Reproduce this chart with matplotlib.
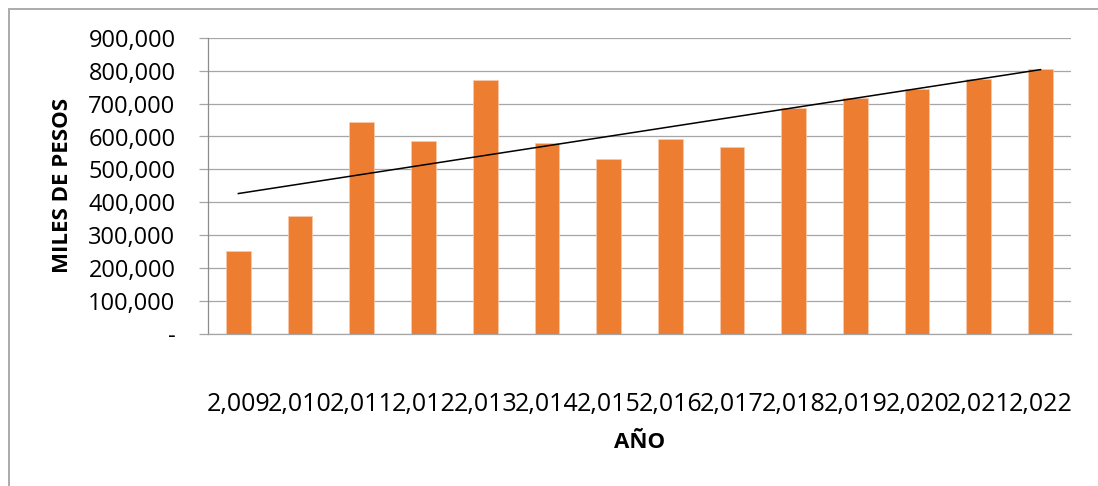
import numpy as np
import matplotlib
matplotlib.use("Agg")
import matplotlib.pyplot as plt
from matplotlib.patches import Rectangle
from matplotlib.ticker import FuncFormatter

# ---- data ----
years = ["2,009", "2,010", "2,011", "2,012", "2,013", "2,014", "2,015",
         "2,016", "2,017", "2,018", "2,019", "2,020", "2,021", "2,022"]
values = [250000, 357000, 645000, 587000, 771000, 581000, 532000,
          591000, 568000, 688000, 716000, 745000, 774000, 805000]
y_ticks = [0, 100000, 200000, 300000, 400000, 500000, 600000, 700000, 800000, 900000]

W, H = 1098, 486
fig = plt.figure(figsize=(W / 100, H / 100), dpi=100)
plt.rcParams['font.family'] = ['Open Sans', 'DejaVu Sans']

ax_l, ax_r, ax_t, ax_b = 207.5, 1071.4, 38, 333.5
ax = fig.add_axes([ax_l / W, (H - ax_b) / H, (ax_r - ax_l) / W, (ax_b - ax_t) / H])

x = np.arange(len(years))
ax.bar(x, values, width=0.40, color='#ED7D31', edgecolor='#F8CBAD', linewidth=0.5, zorder=3)

# linear trendline
coef = np.polyfit(x, values, 1)
ax.plot([x[0], x[-1]], np.polyval(coef, [x[0], x[-1]]), color='black', linewidth=1.1, zorder=4)

ax.set_xlim(-0.5, len(years) - 0.5)
ax.set_ylim(0, 900000)
ax.set_yticks(y_ticks)
ax.yaxis.set_major_formatter(FuncFormatter(lambda v, p: "-" if v == 0 else f"{v:,.0f}"))
ax.set_xticks(x)
ax.set_xticklabels(years)

grid_c = '#A6A6A6'
ax.grid(axis='y', color=grid_c, linewidth=0.9, zorder=0)
ax.set_axisbelow(True)
for s in ['top', 'right']:
    ax.spines[s].set_visible(False)
ax.spines['left'].set_color('#8C8C8C')
ax.spines['bottom'].set_color(grid_c)
ax.spines['left'].set_linewidth(0.9)
ax.spines['bottom'].set_linewidth(0.9)

ax.tick_params(axis='y', length=6.5, width=0.9, color=grid_c, pad=16.5, labelsize=17)
ax.tick_params(axis='x', length=0, pad=42, labelsize=18.0)

ax.set_ylabel("MILES DE PESOS", fontsize=16, fontweight='bold', va='center')
ax.yaxis.set_label_coords((63 - ax_l) / (ax_r - ax_l), 0.5)
ax.set_xlabel("AÑO", fontsize=16, fontweight='bold', va='center')
ax.xaxis.set_label_coords(0.5, (ax_b - 442) / (ax_b - ax_t))

# outer chart border
fig.add_artist(Rectangle((9 / W, -0.1), 1.2, (H - 9) / H + 0.1, transform=fig.transFigure,
                         fill=False, edgecolor='#ABABAB', linewidth=1.4))

fig.savefig("out.png", dpi=100)
